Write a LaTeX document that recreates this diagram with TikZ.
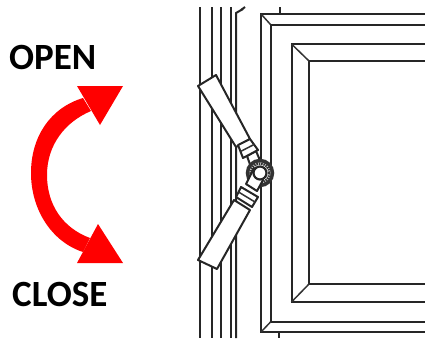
\documentclass[tikz,border=0pt]{standalone}
\usepackage{fontspec}
\setmainfont{Carlito}
\tikzset{
  win/.style={line width=2pt,draw=black!85,line join=miter},
  thin part/.style={line width=1.5pt,draw=black!80,line join=round},
  handle/.style={line width=2pt,draw=black!85,fill=white,line join=round},
  label/.style={font=\bfseries\fontsize{37}{37}\selectfont,text=black,inner sep=0pt,anchor=base west},
  redshape/.style={fill=red,draw=none}
}
\begin{document}
\begin{tikzpicture}[x=1pt,y=-1pt]
\useasboundingbox (0,0) rectangle (425,338);
% labels
\node[label] (open) at (9,69) {OPEN};
\node[label] (close) at (12,306) {CLOSE};
% red arrow
\fill[redshape] (83,98) .. controls (50,108) and (31,137) .. (31,173) .. controls (31,210) and (52,242) .. (83,252)
  -- (90,238) .. controls (63,228) and (47,205) .. (47,175) .. controls (47,145) and (65,122) .. (91,111) -- cycle;
\fill[redshape] (77,86) -- (123,86) -- (100,125) -- cycle;
\fill[redshape] (98,224) -- (123,263) -- (77,263) -- cycle;
% frame rails
\foreach \x in {200,212,221,231}{\draw[win] (\x,7) -- (\x,338);}
\draw[win] (236,338) -- (236,13) -- (243,9);
\draw[win] (245,7) -- (241,10);
% sash
\draw[win] (280,7) -- (280,14);
\draw[win] (279,332) -- (279,338);
\draw[win] (425,14) -- (261,14) -- (261,332) -- (425,332);
\draw[win] (425,24.5) -- (270.5,24.5) -- (270.5,322) -- (425,322);
\draw[win] (425,44) -- (291.5,44) -- (291.5,302) -- (425,302);
\draw[win] (425,61) -- (309,61) -- (309,284) -- (425,284);
\draw[thin part] (261,14) -- (270.5,24.5);
\draw[thin part] (261,332) -- (270.5,322);
\draw[thin part] (291.5,44) -- (309,61);
\draw[thin part] (291.5,302) -- (309,284);
% upper stem
\draw[handle] (247,156) -- (256,151) -- (262,165) -- (252,170) -- cycle;
% pivot
\draw[line width=3.5pt,draw=black!80,fill=white] (260,173) circle (12.5);
\draw[line width=2.5pt,draw=black!80,dash pattern=on 1.6pt off 0.8pt] (260,173) circle (9.5);
% upper handle
\draw[handle] (198,86) -- (216,75) -- (250,139) -- (236,147) -- cycle;
\draw[handle] (238,145) -- (250,139) -- (258,150) -- (243,158) -- cycle;
\draw[thin part] (240.5,151.5) -- (254,144.5);
% lower stem and pin
\draw[handle] (246,184) -- (254,168) -- (263,180) -- (257,191) -- cycle;
\draw[line width=2.2pt,draw=black!85,fill=white] (260,173) circle (6.5);
% lower handle
\draw[handle] (198,260) -- (234,200) -- (250,210) -- (217,269) -- cycle;
\draw[handle] (236,197) -- (241,187) -- (258,197) -- (252,207) -- cycle;
\draw[thin part] (238.5,192) -- (255,202);
\end{tikzpicture}
\end{document}
